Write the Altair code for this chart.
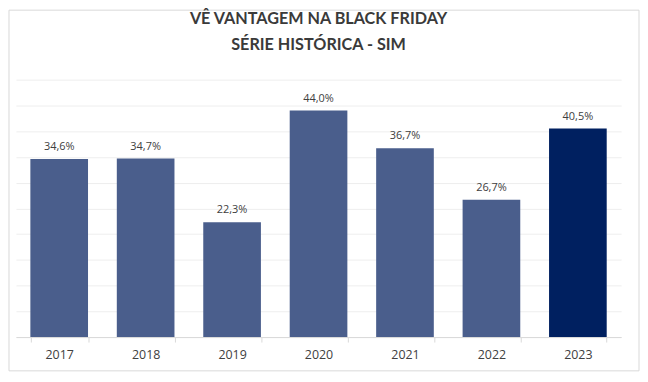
import altair as alt
import pandas as pd

anos = ["2017", "2018", "2019", "2020", "2021", "2022", "2023"]
valores = [34.6, 34.7, 22.3, 44.0, 36.7, 26.7, 40.5]
grupo = ["normal", "normal", "normal", "normal", "normal", "normal", "destaque"]
rotulos = [f"{v:.1f}".replace(".", ",") + "%" for v in valores]
titulo = ["VÊ VANTAGEM NA BLACK FRIDAY", "SÉRIE HISTÓRICA - SIM"]
titulo_y = [-61, -35]

df = pd.DataFrame({"ano": anos, "valor": valores, "grupo": grupo, "rotulo": rotulos})

x = alt.X(
    "ano:N", sort=None,
    scale=alt.Scale(paddingInner=0.333, paddingOuter=0.1667),
    axis=alt.Axis(title=None, labelAngle=0, labelFont="Open Sans", labelFontSize=12.5,
                  labelColor="#404040", labelPadding=7, tickBand="extent", tickSize=5,
                  tickColor="#d9d9d9", domainColor="#d9d9d9", grid=False),
)
y = alt.Y(
    "valor:Q",
    scale=alt.Scale(domain=[0, 50]),
    axis=alt.Axis(title=None, labels=False, ticks=False, domain=False, grid=True,
                  gridColor="#eeeeee", values=list(range(0, 55, 5))),
)

base = alt.Chart(df).encode(x=x, y=y)

bars = base.mark_bar().encode(
    color=alt.Color("grupo:N", scale=alt.Scale(domain=["normal", "destaque"],
                                               range=["#4a5e8c", "#002060"]), legend=None)
)
text = base.mark_text(dy=-9, baseline="alphabetic", font="Open Sans", fontSize=11,
                      color="#404040").encode(text="rotulo:N")

border = alt.Chart(alt.Data(values=[{}])).mark_rect(
    filled=False, stroke="#d9d9d9", strokeWidth=1
).encode(x=alt.value(-7), x2=alt.value(627), y=alt.value(-70), y2=alt.value(293))

title_df = pd.DataFrame({"t": titulo, "py": titulo_y})
title_marks = alt.Chart(title_df).mark_text(
    font="Lato", fontSize=16.3, fontWeight="bold", color="#3a3a3a",
    align="center", baseline="middle"
).encode(text="t:N", x=alt.value(304.5), y=alt.Y("py:Q", scale=None))

chart = alt.layer(bars, text, border, title_marks).properties(
    width=609, height=259,
    autosize=alt.AutoSizeParams(type="none"),
    padding={"left": 8, "top": 71, "right": 19, "bottom": 36},
).configure_view(stroke=None)

chart.save("out.html", embed_options={"renderer": "svg", "actions": False})
